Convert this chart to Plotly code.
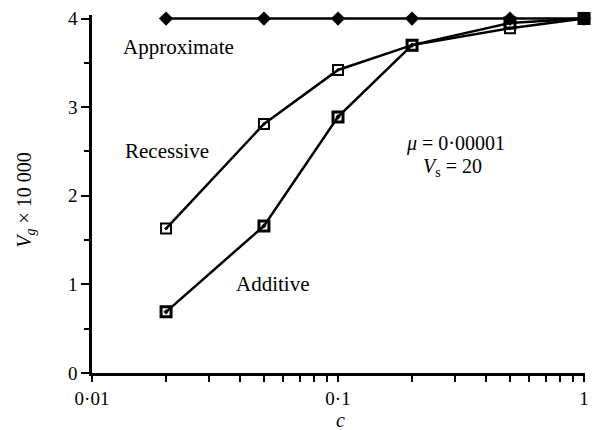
import plotly.graph_objects as go

c_vals = [0.02, 0.05, 0.1, 0.2, 0.5, 1.0]
approximate = [4.0, 4.0, 4.0, 4.0, 4.0, 4.0]
recessive = [1.63, 2.81, 3.42, 3.70, 3.89, 4.0]
additive = [0.69, 1.66, 2.89, 3.70, 3.95, 4.0]

x_major = [0.01, 0.1, 1]
x_major_labels = ["0·01", "0·1", "1"]
x_minor = [k * 0.01 for k in range(2, 10)] + [k * 0.1 for k in range(2, 10)]
y_ticks = [0, 1, 2, 3, 4]

FONT = "Liberation Serif"

W, H = 592, 430
Y0_PX, Y4_PX = 373, 19      # y=0 and y=4 pixel rows
X0_PX, X1_PX = 92, 584      # c=0.01 and c=1 pixel columns
Y_TOP = 4.04
PX_PER_UNIT = (Y0_PX - Y4_PX) / 4.0
top_px = Y4_PX - (Y_TOP - 4) * PX_PER_UNIT
X_HI = 0.004
plot_w = (X1_PX - X0_PX) * (2 + X_HI) / 2
L = X0_PX
R = W - L - plot_w
B = H - Y0_PX

fig = go.Figure()
fig.add_trace(go.Scatter(
    x=c_vals, y=approximate, mode="lines+markers",
    line=dict(color="black", width=2.5),
    marker=dict(symbol="diamond", size=11, color="black"),
    cliponaxis=False, showlegend=False))
fig.add_trace(go.Scatter(
    x=c_vals, y=recessive, mode="lines+markers",
    line=dict(color="black", width=2.5),
    marker=dict(symbol="square-open-dot", size=10, color="black",
                line=dict(width=2, color="black")),
    cliponaxis=False, showlegend=False))
fig.add_trace(go.Scatter(
    x=c_vals, y=additive, mode="lines+markers",
    line=dict(color="black", width=2.5),
    marker=dict(symbol="square-open-dot", size=10, color="black",
                line=dict(width=3, color="black")),
    cliponaxis=False, showlegend=False))

tickvals = x_major + x_minor
ticktext = x_major_labels + [""] * len(x_minor)

fig.update_layout(
    width=W, height=H,
    margin=dict(l=L, r=R, t=top_px, b=B, pad=0),
    paper_bgcolor="white", plot_bgcolor="white",
    font=dict(family=FONT, size=19, color="black"),
    xaxis=dict(type="log", range=[-2, X_HI], tickvals=tickvals, ticktext=ticktext,
               ticks="outside", ticklen=6, tickwidth=2, tickcolor="black",
               showline=True, linewidth=2.5, linecolor="black",
               showgrid=False, zeroline=False, automargin=False),
    yaxis=dict(range=[0, Y_TOP], tickvals=y_ticks,
               ticks="outside", ticklen=8, tickwidth=2, tickcolor="black",
               minor=dict(dtick=0.5, ticks="outside", ticklen=5, tickwidth=2,
                          tickcolor="black", showgrid=False),
               showline=True, linewidth=2.5, linecolor="black",
               showgrid=False, zeroline=False, automargin=False),
)

def px_x(px):
    return (px - L) / plot_w

def px_y(py):
    return (Y0_PX - py) / (Y0_PX - top_px)

ann = dict(xref="paper", yref="paper", showarrow=False,
           xanchor="center", yanchor="middle",
           font=dict(family=FONT, size=21, color="black"))
fig.add_annotation(x=px_x(178), y=px_y(47), text="Approximate", **ann)
fig.add_annotation(x=px_x(167), y=px_y(151), text="Recessive", **ann)
fig.add_annotation(x=px_x(273), y=px_y(284), text="Additive", **ann)
ann_small = dict(ann, font=dict(family=FONT, size=20, color="black"))
fig.add_annotation(x=px_x(455), y=px_y(144), text="<i>μ</i> = 0·00001", **ann_small)
fig.add_annotation(x=px_x(452), y=px_y(168), text="<i>V</i><sub>s</sub> = 20", **ann_small)
# axis titles
fig.add_annotation(x=px_x(340), y=px_y(420), text="<i>c</i>", **ann_small)
fig.add_annotation(x=px_x(26), y=px_y(200),
                   text="<i>V</i><sub><i>g</i></sub> × 10 000",
                   textangle=-90, xref="paper", yref="paper", showarrow=False,
                   xanchor="center", yanchor="middle",
                   font=dict(family=FONT, size=20, color="black"))

fig.write_html("out.html",
               config={"displayModeBar": False},
               post_script="document.body.style.margin='0';"
                           "document.body.style.overflow='hidden';")
